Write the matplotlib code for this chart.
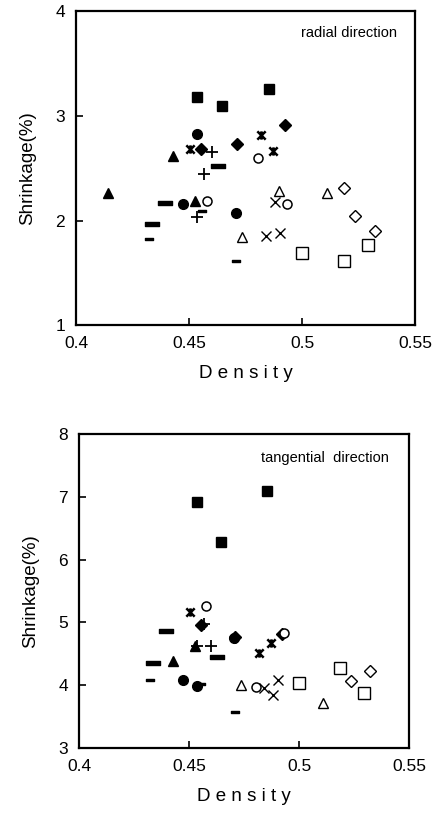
import numpy as np
import matplotlib
matplotlib.use("Agg")
import matplotlib.pyplot as plt
from matplotlib.path import Path

plt.rcParams['font.family'] = ['Liberation Sans', 'DejaVu Sans']

# ---- data (density, radial shrinkage, tangential shrinkage) per marker series ----
sq_f_d = [0.4536, 0.4645, 0.4853]; sq_f_r = [3.18, 3.10, 3.26]; sq_f_t = [6.92, 6.29, 7.10]
dia_f_d = [0.4553, 0.4710, 0.4923]; dia_f_r = [2.68, 2.73, 2.91]; dia_f_t = [4.96, 4.77, 4.81]
cir_f_d = [0.4534, 0.4473, 0.4706]; cir_f_r = [2.83, 2.155, 2.07]; cir_f_t = [3.99, 4.09, 4.75]
star_d = [0.4503, 0.4817, 0.4872]; star_r = [2.68, 2.82, 2.67]; star_t = [5.16, 4.52, 4.67]
plus_d = [0.4600, 0.4566, 0.4537]; plus_r = [2.66, 2.45, 2.03]; plus_t = [4.63, 4.97, 4.62]
ldash_d = [0.4628, 0.4393, 0.4334]; ldash_r = [2.52, 2.17, 1.97]; ldash_t = [4.45, 4.86, 4.36]
sdash_d = [0.4324, 0.4556, 0.4707]; sdash_r = [1.82, 2.09, 1.61]; sdash_t = [4.09, 4.02, 3.58]
cir_o_d = [0.4804, 0.4578, 0.4932]; cir_o_r = [2.60, 2.19, 2.16]; cir_o_t = [3.97, 5.26, 4.83]
tri_f_d = [0.4427, 0.4143, 0.4526]; tri_f_r = [2.62, 2.26, 2.19]; tri_f_t = [4.38, np.nan, 4.62]
tri_o_d = [0.4735, 0.4898, 0.5110]; tri_o_r = [1.84, 2.28, 2.26]; tri_o_t = [4.01, np.nan, 3.71]
x_d = [0.4839, 0.4880, 0.4903]; x_r = [1.855, 2.18, 1.88]; x_t = [3.96, 3.84, 4.09]
sq_o_d = [0.4998, 0.5187, 0.5293]; sq_o_r = [1.69, 1.61, 1.77]; sq_o_t = [4.03, 4.28, 3.87]
dia_o_d = [0.5187, 0.5235, 0.5322]; dia_o_r = [2.31, 2.04, 1.90]; dia_o_t = [np.nan, 4.06, 4.22]

x_ticks = [0.4, 0.45, 0.5, 0.55]
x_tick_labels = ['0.4', '0.45', '0.5', '0.55']
rad_ticks = [1, 2, 3, 4]
tan_ticks = [3, 4, 5, 6, 7, 8]

# custom markers
star_path = Path([(-1, -1), (1, 1), (-1, 1), (1, -1), (0, -1), (0, 1)],
                 [Path.MOVETO, Path.LINETO, Path.MOVETO, Path.LINETO,
                  Path.MOVETO, Path.LINETO])
ldash_path = Path([(-1, -0.3), (1, -0.3), (1, 0.3), (-1, 0.3), (-1, -0.3)],
                  [Path.MOVETO, Path.LINETO, Path.LINETO, Path.LINETO, Path.CLOSEPOLY])

series = [
    (sq_f_d, sq_f_r, sq_f_t, dict(marker='s', ms=7, mfc='black', mec='black')),
    (dia_f_d, dia_f_r, dia_f_t, dict(marker='D', ms=6, mfc='black', mec='black')),
    (cir_f_d, cir_f_r, cir_f_t, dict(marker='o', ms=7, mfc='black', mec='black')),
    (star_d, star_r, star_t, dict(marker=star_path, ms=6, mfc='none', mec='black', mew=1.8)),
    (plus_d, plus_r, plus_t, dict(marker='+', ms=8, mec='black', mew=1.3)),
    (ldash_d, ldash_r, ldash_t, dict(marker=ldash_path, ms=10, mfc='black', mec='black')),
    (sdash_d, sdash_r, sdash_t, dict(marker=ldash_path, ms=6, mfc='black', mec='black')),
    (cir_o_d, cir_o_r, cir_o_t, dict(marker='o', ms=6.5, mfc='white', mec='black', mew=1.1)),
    (tri_f_d, tri_f_r, tri_f_t, dict(marker='^', ms=7, mfc='black', mec='black')),
    (tri_o_d, tri_o_r, tri_o_t, dict(marker='^', ms=7, mfc='white', mec='black', mew=1.0)),
    (x_d, x_r, x_t, dict(marker='x', ms=7, mec='black', mew=1.0)),
    (dia_o_d, dia_o_r, dia_o_t, dict(marker='D', ms=6, mfc='white', mec='black', mew=1.0)),
    (sq_o_d, sq_o_r, sq_o_t, dict(marker='s', ms=8, mfc='white', mec='black', mew=1.0)),
]

fig = plt.figure(figsize=(4.37, 8.21), dpi=100)
ax1 = fig.add_axes([0.174, 0.604, 0.776, 0.382])
ax2 = fig.add_axes([0.181, 0.089, 0.755, 0.382])

for d, r, t, st in series:
    ax1.plot(d, r, linestyle='none', **st)
    ax2.plot(d, t, linestyle='none', **st)

for ax, yt in [(ax1, rad_ticks), (ax2, tan_ticks)]:
    ax.set_xlim(0.4, 0.55)
    ax.set_ylim(yt[0], yt[-1])
    ax.set_xticks(x_ticks)
    ax.set_xticklabels(x_tick_labels)
    ax.set_yticks(yt)
    ax.tick_params(direction='in', length=5, width=1.2, labelsize=12.5, pad=8,
                   top=False, right=False)
    for s in ax.spines.values():
        s.set_linewidth(1.6)
    ax.set_ylabel('Shrinkage(%)', fontsize=13.5, labelpad=14)
    ax.set_xlabel('D e n s i t y', fontsize=13.5, labelpad=10)

ax1.text(0.947, 0.93, 'radial direction', transform=ax1.transAxes, ha='right', va='center', fontsize=10.5)
ax2.text(0.939, 0.924, 'tangential  direction', transform=ax2.transAxes, ha='right', va='center', fontsize=10.5)

fig.savefig('out.png', dpi=100)
